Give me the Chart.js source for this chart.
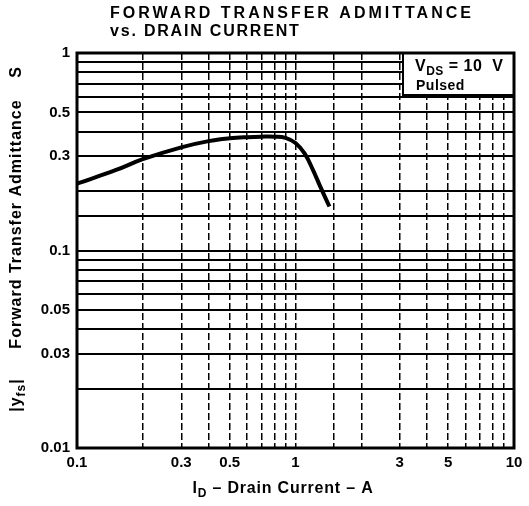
<!DOCTYPE html>
<html>
<head>
<meta charset="utf-8">
<script src="https://cdn.jsdelivr.net/npm/chart.js@4.4.0/dist/chart.umd.min.js"></script>
<style>
  html, body { margin: 0; padding: 0; background: #fff; }
  #wrap { width: 529px; height: 506px; }
</style>
</head>
<body>
<div id="wrap"><canvas id="chart" width="529" height="506"></canvas></div>
<script>
// Drain current (A) and forward transfer admittance (S)
const drainCurrent = [0.1, 0.15, 0.2, 0.3, 0.4, 0.5, 0.6, 0.7, 0.8, 0.9, 1.0, 1.1, 1.2, 1.3, 1.43];
const admittance = [0.218, 0.255, 0.29, 0.333, 0.358, 0.37, 0.375, 0.377, 0.377, 0.372, 0.35, 0.31, 0.257, 0.21, 0.167];

const xTickLabels = [0.1, 0.3, 0.5, 1, 3, 5, 10];
const yTickLabels = [0.01, 0.03, 0.05, 0.1, 0.3, 0.5, 1];

const FONT = "'Liberation Sans', Arial, sans-serif";

function near(v, list) {
    return list.some(t => Math.abs(Math.log10(v) - Math.log10(t)) < 1e-6);
}

// draws text with a subscript part, returns width
function subText(ctx, parts, x, y, size) {
    let cx = x;
    parts.forEach(p => {
        ctx.font = p.sub ? 'bold ' + (size - 4) + 'px ' + FONT : 'bold ' + size + 'px ' + FONT;
        ctx.fillText(p.t, cx, y + (p.sub ? 4 : 0));
        cx += ctx.measureText(p.t).width;
    });
    return cx - x;
}
function subWidth(ctx, parts, size) {
    let w = 0;
    parts.forEach(p => {
        ctx.font = p.sub ? 'bold ' + (size - 4) + 'px ' + FONT : 'bold ' + size + 'px ' + FONT;
        w += ctx.measureText(p.t).width;
    });
    return w;
}

const decorations = {
    id: 'decorations',
    beforeDatasetsDraw(chart) {
        const ctx = chart.ctx;
        const a = chart.chartArea;
        // legend box in the top right corner
        const bx = 403, by = a.top, bw = a.right - 403, bh = 42;
        ctx.save();
        ctx.fillStyle = '#fff';
        ctx.fillRect(bx, by, bw, bh);
        ctx.strokeStyle = '#000';
        ctx.lineWidth = 2;
        ctx.strokeRect(bx, by, bw, bh);
        ctx.fillStyle = '#000';
        ctx.textBaseline = 'alphabetic';
        ctx.textAlign = 'left';
        ctx.letterSpacing = '0.5px';
        subText(ctx, [{t: 'V'}, {t: 'DS', sub: true}, {t: ' = 10  V'}], 415, by + 18, 16);
        ctx.font = 'bold 14px ' + FONT;
        ctx.fillText('Pulsed', 416, by + 37);
        ctx.restore();
    },
    afterDraw(chart) {
        const ctx = chart.ctx;
        const a = chart.chartArea;
        ctx.save();
        // plot frame
        ctx.strokeStyle = '#000';
        ctx.lineWidth = 3;
        ctx.strokeRect(a.left, a.top, a.right - a.left, a.bottom - a.top);

        // title
        ctx.fillStyle = '#000';
        ctx.textAlign = 'left';
        ctx.textBaseline = 'middle';
        ctx.font = 'bold 16px ' + FONT;
        ctx.letterSpacing = '3px';
        ctx.fillText('FORWARD TRANSFER ADMITTANCE', 110, 14);
        ctx.letterSpacing = '1.8px';
        ctx.fillText('vs. DRAIN CURRENT', 110, 32);

        // x axis title
        ctx.textBaseline = 'alphabetic';
        ctx.letterSpacing = '0.8px';
        const xParts = [{t: 'I'}, {t: 'D', sub: true}, {t: ' \u2013 Drain Current \u2013 A'}];
        const xw = subWidth(ctx, xParts, 16);
        subText(ctx, xParts, 283 - xw / 2, 493, 16);

        // y axis title, rotated
        ctx.translate(21, 0);
        ctx.rotate(-Math.PI / 2);
        ctx.textAlign = 'left';
        ctx.letterSpacing = '1px';
        const yParts = [{t: '|y'}, {t: 'fs', sub: true}, {t: '|'}];
        const yw = subWidth(ctx, yParts, 16);
        subText(ctx, yParts, -395 - yw / 2, 0, 16);
        ctx.font = 'bold 16px ' + FONT;
        ctx.textAlign = 'center';
        ctx.fillText('Forward Transfer Admittance', -224, 0);
        ctx.fillText('S', -72, 0);
        ctx.restore();
    }
};

const points = drainCurrent.map((x, i) => ({x: x, y: admittance[i]}));

new Chart(document.getElementById('chart'), {
    type: 'line',
    data: {
        datasets: [{
            data: points,
            borderColor: '#000',
            borderWidth: 4,
            pointRadius: 0,
            fill: false,
            tension: 0.4
        }]
    },
    options: {
        responsive: false,
        animation: false,
        layout: { padding: { top: 53, right: 15, left: 0, bottom: 0 } },
        plugins: { legend: { display: false }, tooltip: { enabled: false } },
        scales: {
            x: {
                type: 'logarithmic',
                min: 0.1,
                max: 10,
                afterFit(scale) { scale.height = 58; },
                border: { display: false, dash: [7, 3] },
                grid: { color: '#000', lineWidth: 1.5, drawTicks: false },
                ticks: {
                    autoSkip: false,
                    maxRotation: 0,
                    padding: 6,
                    color: '#000',
                    font: { family: FONT, size: 15, weight: 'bold' },
                    callback: (v) => near(v, xTickLabels) ? String(v) : ''
                }
            },
            y: {
                type: 'logarithmic',
                min: 0.01,
                max: 1,
                afterFit(scale) { scale.width = 77; },
                border: { display: false },
                grid: { color: '#000', lineWidth: 2, drawTicks: false },
                ticks: {
                    autoSkip: false,
                    padding: 7,
                    color: '#000',
                    font: { family: FONT, size: 15, weight: 'bold' },
                    callback: (v) => near(v, yTickLabels) ? String(v) : ''
                }
            }
        }
    },
    plugins: [decorations]
});
</script>
</body>
</html>
